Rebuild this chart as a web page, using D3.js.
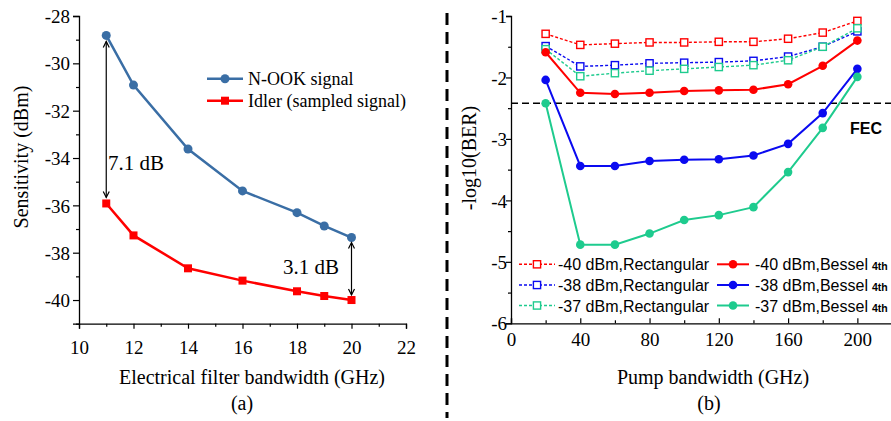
<!DOCTYPE html>
<html>
<head>
<meta charset="utf-8">
<script src="https://cdn.jsdelivr.net/npm/d3@7"></script>
<style>
  html, body { margin: 0; padding: 0; background: #fff; }
  svg { display: block; }
  .serif { font-family: "Liberation Serif", "Times New Roman", serif; }
  .sans { font-family: "Liberation Sans", Arial, sans-serif; }
</style>
</head>
<body>
<div id="chart"></div>
<script>
/* Panel (a): sensitivity vs electrical filter bandwidth */
const filterBw = [11, 12, 14, 16, 18, 19, 20];
const nookSens = [-28.82, -30.92, -33.62, -35.39, -36.31, -36.87, -37.36];
const idlerSens = [-35.92, -37.27, -38.66, -39.18, -39.63, -39.83, -40.0];
const xTicksA = [10, 12, 14, 16, 18, 20, 22];
const yTicksA = [-28, -30, -32, -34, -36, -38, -40];

/* Panel (b): -log10(BER) vs pump bandwidth */
const pumpBw = [20, 40, 60, 80, 100, 120, 140, 160, 180, 200];
const rect40 = [-1.29, -1.47, -1.45, -1.43, -1.43, -1.42, -1.42, -1.37, -1.27, -1.08];
const rect38 = [-1.49, -1.82, -1.80, -1.77, -1.76, -1.75, -1.73, -1.66, -1.50, -1.25];
const rect37 = [-1.54, -1.98, -1.93, -1.89, -1.86, -1.83, -1.80, -1.72, -1.50, -1.20];
const bes40 = [-1.59, -2.25, -2.27, -2.25, -2.22, -2.21, -2.20, -2.11, -1.81, -1.40];
const bes38 = [-2.04, -3.44, -3.44, -3.36, -3.34, -3.33, -3.27, -3.08, -2.58, -1.86];
const bes37 = [-2.42, -4.72, -4.72, -4.54, -4.32, -4.24, -4.11, -3.54, -2.82, -1.99];
const fecLevel = -2.42;
const xTicksB = [0, 40, 80, 120, 160, 200];
const yTicksB = [-1, -2, -3, -4, -5, -6];

const W = 891, H = 421;
const svg = d3.select('#chart').append('svg').attr('width', W).attr('height', H);

const steel = '#3a6ea5', red = '#ff0000', blue = '#0a0af0', green = '#1ecb8e';

// plain hyphen labels, like the original figure
const hyph = list => d => list.includes(d) ? String(d) : '';

/* ---- panel (a) ---- */
const xa = d3.scaleLinear().domain([10, 22]).range([79, 406]);
const ya = d3.scaleLinear().domain([-41, -28]).range([323.7, 16]);
const ga = svg.append('g');

const axA = ga.append('g').attr('transform', 'translate(0,323.7)')
  .call(d3.axisBottom(xa).tickValues(d3.range(10, 23, 1)).tickSize(5).tickFormat(hyph(xTicksA)));
axA.selectAll('.tick').filter(d => d % 2 !== 0).select('line').attr('y2', 3);
const ayA = ga.append('g').attr('transform', 'translate(79,0)')
  .call(d3.axisLeft(ya).tickValues(d3.range(-41, -27, 1)).tickSize(6).tickFormat(hyph(yTicksA)));
ayA.selectAll('.tick').filter(d => d % 2 !== 0).select('line').attr('x2', -3);
[axA, ayA].forEach(a => {
  a.select('.domain').attr('stroke', '#000').attr('stroke-width', 1.3);
  a.selectAll('.tick line').attr('stroke', '#000').attr('stroke-width', 1.2);
  a.selectAll('text').attr('class', 'serif').attr('font-size', 19).attr('fill', '#000');
});
axA.selectAll('text').attr('dy', '1.15em');
ayA.selectAll('text').attr('x', -9).attr('dy', '0.35em');

const lineA = d3.line().x((d, i) => xa(filterBw[i])).y(d => ya(d));
ga.append('path').datum(nookSens).attr('d', lineA)
  .attr('fill', 'none').attr('stroke', steel).attr('stroke-width', 2.5);
ga.append('path').datum(idlerSens).attr('d', lineA)
  .attr('fill', 'none').attr('stroke', red).attr('stroke-width', 2.5);
ga.selectAll('circle.nook').data(nookSens).join('circle').attr('class', 'nook')
  .attr('cx', (d, i) => xa(filterBw[i])).attr('cy', d => ya(d)).attr('r', 4.5).attr('fill', steel);
ga.selectAll('rect.idler').data(idlerSens).join('rect').attr('class', 'idler')
  .attr('x', (d, i) => xa(filterBw[i]) - 4).attr('y', d => ya(d) - 4)
  .attr('width', 8).attr('height', 8).attr('fill', red);

// double arrows between the curves
function dblArrow(x, y1, y2) {
  const g = ga.append('g').attr('stroke', '#000').attr('stroke-width', 1.2).attr('fill', 'none');
  g.append('line').attr('x1', x).attr('x2', x).attr('y1', y1).attr('y2', y2);
  g.append('path').attr('d', `M${x - 3},${y1 + 6}L${x},${y1}L${x + 3},${y1 + 6}`);
  g.append('path').attr('d', `M${x - 3},${y2 - 6}L${x},${y2}L${x + 3},${y2 - 6}`);
}
dblArrow(xa(11), ya(nookSens[0]) + 6, ya(idlerSens[0]) - 6);
dblArrow(xa(20), ya(nookSens[6]) + 5, ya(idlerSens[6]) - 5);
ga.append('text').attr('class', 'serif').attr('x', 108).attr('y', 169.5)
  .attr('font-size', 21).text('7.1 dB');
ga.append('text').attr('class', 'serif').attr('x', 283).attr('y', 273.5)
  .attr('font-size', 21).text('3.1 dB');

// legend (a)
const legA = [
  { label: 'N-OOK signal', color: steel, shape: 'circle', y: 78.7 },
  { label: 'Idler (sampled signal)', color: red, shape: 'square', y: 100.7 }
];
legA.forEach(l => {
  ga.append('line').attr('x1', 207).attr('x2', 243).attr('y1', l.y).attr('y2', l.y)
    .attr('stroke', l.color).attr('stroke-width', 2.5);
  if (l.shape === 'circle') ga.append('circle').attr('cx', 225).attr('cy', l.y).attr('r', 4.5).attr('fill', l.color);
  else ga.append('rect').attr('x', 221).attr('y', l.y - 4).attr('width', 8).attr('height', 8).attr('fill', l.color);
  ga.append('text').attr('class', 'serif').attr('x', 248).attr('y', l.y + 6)
    .attr('font-size', 18).text(l.label);
});

ga.append('text').attr('class', 'serif').attr('x', 252).attr('y', 383.5)
  .attr('text-anchor', 'middle').attr('font-size', 20).text('Electrical filter bandwidth (GHz)');
ga.append('text').attr('class', 'serif').attr('x', 242).attr('y', 410)
  .attr('text-anchor', 'middle').attr('font-size', 20).text('(a)');
ga.append('text').attr('class', 'serif').attr('transform', 'translate(27.5,157) rotate(-90)')
  .attr('text-anchor', 'middle').attr('font-size', 20).text('Sensitivity (dBm)');

/* ---- divider ---- */
svg.append('line').attr('x1', 447).attr('x2', 447).attr('y1', 13).attr('y2', 418)
  .attr('stroke', '#000').attr('stroke-width', 3).attr('stroke-dasharray', '12,7');

/* ---- panel (b) ---- */
const xb = d3.scaleLinear().domain([0, 220]).range([511, 892]);
const yb = d3.scaleLinear().domain([-6, -1]).range([323.3, 16]);
const gb = svg.append('g');

const axB = gb.append('g').attr('transform', 'translate(0,323.3)')
  .call(d3.axisBottom(xb).tickValues(d3.range(0, 221, 20)).tickSize(-5).tickFormat(hyph(xTicksB)));
axB.selectAll('.tick').filter(d => d % 40 !== 0).select('line').attr('y2', -3);
const ayB = gb.append('g').attr('transform', 'translate(511,0)')
  .call(d3.axisLeft(yb).tickValues(d3.range(-6, -0.9, 0.5)).tickSize(5).tickFormat(hyph(yTicksB)));
ayB.selectAll('.tick').filter(d => !Number.isInteger(d)).select('line').attr('x2', -3);
[axB, ayB].forEach(a => {
  a.select('.domain').attr('stroke', '#000').attr('stroke-width', 1.3);
  a.selectAll('.tick line').attr('stroke', '#000').attr('stroke-width', 1.2);
  a.selectAll('text').attr('class', 'serif').attr('font-size', 19).attr('fill', '#000');
});
axB.selectAll('text').attr('y', 4).attr('dy', '1em');
ayB.selectAll('text').attr('x', -4).attr('dy', '0.35em');

// FEC threshold
gb.append('line').attr('x1', 511).attr('x2', 891).attr('y1', yb(fecLevel)).attr('y2', yb(fecLevel))
  .attr('stroke', '#000').attr('stroke-width', 1.6).attr('stroke-dasharray', '7,4');
gb.append('text').attr('class', 'sans').attr('x', 850).attr('y', 134)
  .attr('font-size', 16).attr('font-weight', 'bold').text('FEC');

const seriesB = [
  { vals: rect40, color: red, dashed: true },
  { vals: rect38, color: blue, dashed: true },
  { vals: rect37, color: green, dashed: true },
  { vals: bes40, color: red, dashed: false },
  { vals: bes38, color: blue, dashed: false },
  { vals: bes37, color: green, dashed: false }
];
const lineB = d3.line().x((d, i) => xb(pumpBw[i])).y(d => yb(d));
seriesB.forEach(s => {
  gb.append('path').datum(s.vals).attr('d', lineB).attr('fill', 'none')
    .attr('stroke', s.color).attr('stroke-width', s.dashed ? 1.4 : 2)
    .attr('stroke-dasharray', s.dashed ? '3,2' : null);
  if (s.dashed) {
    gb.selectAll(null).data(s.vals).join('rect')
      .attr('x', (d, i) => xb(pumpBw[i]) - 3.6).attr('y', d => yb(d) - 3.6)
      .attr('width', 7.2).attr('height', 7.2).attr('fill', '#fff')
      .attr('stroke', s.color).attr('stroke-width', 1.4);
  } else {
    gb.selectAll(null).data(s.vals).join('circle')
      .attr('cx', (d, i) => xb(pumpBw[i])).attr('cy', d => yb(d)).attr('r', 4.3)
      .attr('fill', s.color);
  }
});

// legend (b)
const legRows = [264.3, 285, 305.5];
const legB = [
  { label: '-40 dBm,Rectangular', color: red, col: 0, row: 0, dashed: true },
  { label: '-38 dBm,Rectangular', color: blue, col: 0, row: 1, dashed: true },
  { label: '-37 dBm,Rectangular', color: green, col: 0, row: 2, dashed: true },
  { label: '-40 dBm,Bessel', color: red, col: 1, row: 0, dashed: false },
  { label: '-38 dBm,Bessel', color: blue, col: 1, row: 1, dashed: false },
  { label: '-37 dBm,Bessel', color: green, col: 1, row: 2, dashed: false }
];
const legCols = [{ x1: 519, x2: 555, m: 537, t: 558 }, { x1: 717, x2: 749, m: 733, t: 755 }];
legB.forEach(l => {
  const c = legCols[l.col], y = legRows[l.row];
  gb.append('line').attr('x1', c.x1).attr('x2', c.x2).attr('y1', y).attr('y2', y)
    .attr('stroke', l.color).attr('stroke-width', l.dashed ? 1.4 : 2)
    .attr('stroke-dasharray', l.dashed ? '3,2' : null);
  if (l.dashed) {
    gb.append('rect').attr('x', c.m - 3.6).attr('y', y - 3.6).attr('width', 7.2).attr('height', 7.2)
      .attr('fill', '#fff').attr('stroke', l.color).attr('stroke-width', 1.4);
  } else {
    gb.append('circle').attr('cx', c.m).attr('cy', y).attr('r', 4.3).attr('fill', l.color);
  }
  const t = gb.append('text').attr('class', 'sans').attr('x', c.t).attr('y', y + 6).attr('font-size', 16);
  t.append('tspan').text(l.label);
  if (!l.dashed) t.append('tspan').attr('font-size', 10.5).attr('font-weight', 'bold').attr('dx', 4).text('4th');
});

gb.append('text').attr('class', 'serif').attr('x', 713).attr('y', 383.5)
  .attr('text-anchor', 'middle').attr('font-size', 20).text('Pump bandwidth (GHz)');
gb.append('text').attr('class', 'serif').attr('x', 709).attr('y', 410)
  .attr('text-anchor', 'middle').attr('font-size', 20).text('(b)');
gb.append('text').attr('class', 'serif').attr('transform', 'translate(476,158) rotate(-90)')
  .attr('text-anchor', 'middle').attr('font-size', 20).text('-log10(BER)');
</script>
</body>
</html>
